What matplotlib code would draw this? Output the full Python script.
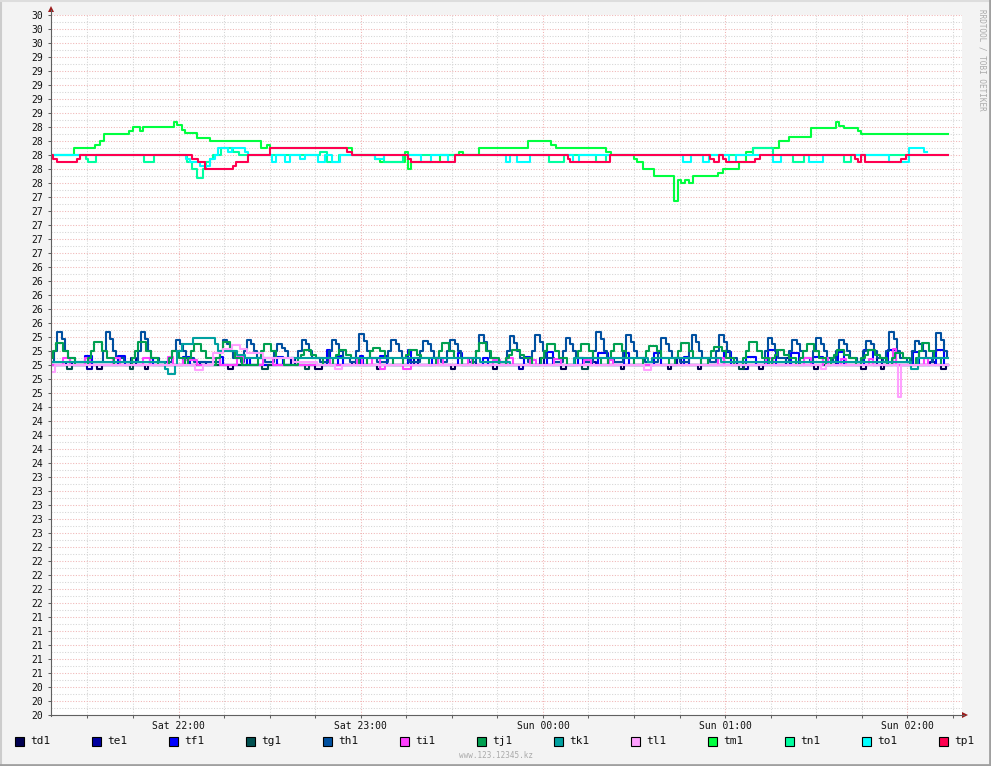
"""
RRDtool style temperature graph: 13 sensors td1 .. tp1, Sat 21:18 -> Sun 02:18.
Times are minutes after 21:18, values are degrees read off the reference.
"""

import matplotlib
matplotlib.use('Agg')
import matplotlib.pyplot as plt
from matplotlib.patches import Rectangle, Polygon
from matplotlib.lines import Line2D
import numpy as np


# Data: (minute, value) step points, each value holds until the next point

td1 = [(0, 25.0), (15.2, 24.94), (16.8, 25.0), (31, 24.94), (32, 25.0), (58.4, 24.94), (60, 25.0),
       (87, 24.94), (89.4, 25.0), (107.5, 24.94), (108.5, 25.0), (131.6, 24.94), (133.2, 25.0),
       (145.4, 24.94), (147, 25.0), (167.8, 24.94), (169.5, 25.0), (187.6, 24.94), (188.6, 25.0),
       (203.1, 24.94), (204.1, 25.0), (213, 24.94), (214, 25.0), (233.1, 24.94), (234.4, 25.0),
       (251.2, 24.94), (252.6, 25.0), (266.7, 24.94), (268.4, 25.0), (273.3, 24.94), (274.3, 25.0),
       (293.1, 24.94), (294.8, 25.0), (295.4, 25.0)]

te1 = [(0, 25.0), (5, 25.05), (7, 25.0), (12, 24.95), (13.5, 25.0), (26.5, 25.1), (28, 25.0),
       (49, 25.05), (51, 25.0), (79, 25.1), (80.5, 25.0), (99, 25.05), (100.5, 25.0),
       (119.5, 25.1), (121, 25.0), (138.5, 25.05), (140, 25.0), (154, 24.95), (155.5, 25.0),
       (161, 25.1), (162.5, 25.0), (178, 25.05), (179.5, 25.0), (206, 25.1), (207.5, 25.0),
       (226, 25.05), (228, 24.95), (229.5, 25.0), (242, 25.1), (243.5, 25.0), (257, 25.05),
       (258.5, 25.0), (272, 25.1), (273.5, 25.0), (289.5, 25.05), (291, 25.0), (295.4, 25.0)]

tf1 = [(0, 25.0), (11.2, 25.13), (13.5, 25.0), (22.1, 25.13), (24.4, 25.0), (32.6, 25.1), (33.6, 25.0),
       (43.5, 25.12), (45.8, 25.0), (55.7, 25.12), (56.7, 25.0), (64.6, 25.1), (65.6, 25.0),
       (74.5, 25.12), (76.5, 25.0), (91, 25.21), (92, 25.0), (94.6, 25.13), (96.3, 25.0),
       (101.9, 25.13), (102.9, 25.0), (108.5, 25.13), (110.8, 25.0), (117.4, 25.21), (118.4, 25.0),
       (125.6, 25.1), (127.3, 25.0), (133.9, 25.17), (135.5, 25.0), (142.4, 25.1), (144, 25.0),
       (155.6, 25.12), (157.9, 25.0), (163.5, 25.19), (165.2, 25.0), (173.4, 25.1), (175.1, 25.0),
       (180, 25.17), (183.3, 25.0), (188.6, 25.17), (190.2, 25.0), (198.5, 25.17), (200.8, 25.0),
       (208.4, 25.12), (210, 25.0), (221.6, 25.19), (223.9, 25.0), (228.8, 25.12), (232.1, 25.0),
       (236.1, 25.21), (238.7, 25.0), (243.6, 25.17), (246.3, 25.0), (250.9, 25.12), (254.2, 25.0),
       (259.2, 25.19), (261.1, 25.0), (267.7, 25.21), (270.7, 25.0), (275.6, 25.21), (278.3, 25.0),
       (283.9, 25.19), (285.9, 25.0), (291.5, 25.21), (294.1, 25.0), (295.4, 25.0)]

tg1 = [(0, 25.0), (5.3, 24.95), (6.9, 25.0), (26, 24.95), (27, 25.0), (69.6, 24.95), (71.5, 25.0),
       (83.7, 24.95), (85, 25.0), (175, 24.95), (176.7, 25.0), (226.5, 24.95), (228.1, 25.0),
       (295.4, 25.0)]

th1 = [(0, 25.05),
       (1, 25.2), (2, 25.47), (3.5, 25.37), (4.5, 25.2), (5.5, 25.1), (8, 25.05),
       (17, 25.2), (18, 25.47), (19.5, 25.37), (20.5, 25.2), (21.5, 25.1), (24, 25.05),
       (28.5, 25.2), (29.5, 25.47), (31, 25.37), (32, 25.2), (33, 25.1), (35.5, 25.05),
       (40, 25.2), (41, 25.36), (42.5, 25.3), (43.5, 25.2), (44.5, 25.1), (47, 25.05),
       (55.5, 25.2), (56.5, 25.36), (58, 25.3), (59, 25.2), (60, 25.1), (62.5, 25.05),
       (63.5, 25.2), (64.5, 25.36), (66, 25.3), (67, 25.2), (68, 25.1), (70.5, 25.05),
       (73.5, 25.2), (74.5, 25.3), (76, 25.25), (77, 25.2), (78, 25.1), (80, 25.05),
       (81.5, 25.2), (82.5, 25.36), (84, 25.3), (85, 25.2), (86, 25.1), (88.5, 25.05),
       (91.5, 25.2), (92.5, 25.36), (94, 25.3), (95, 25.2), (96, 25.1), (98.5, 25.05),
       (100.5, 25.2), (101.5, 25.45), (103, 25.35), (104, 25.2), (105, 25.1), (107.5, 25.05),
       (111, 25.2), (112, 25.36), (113.5, 25.3), (114.5, 25.2), (115.5, 25.1), (118, 25.05),
       (121.5, 25.2), (122.5, 25.35), (124, 25.3), (125, 25.2), (126, 25.1), (128.5, 25.05),
       (130.5, 25.2), (131.5, 25.36), (133, 25.3), (134, 25.2), (135, 25.1), (137.5, 25.05),
       (140, 25.2), (141, 25.43), (142.5, 25.33), (143.5, 25.2), (144.5, 25.1), (147, 25.05),
       (150, 25.2), (151, 25.42), (152.5, 25.32), (153.5, 25.2), (154.5, 25.1), (157, 25.05),
       (158.5, 25.2), (159.5, 25.43), (161, 25.33), (162, 25.2), (163, 25.1), (165.5, 25.05),
       (168.5, 25.2), (169.5, 25.38), (171, 25.3), (172, 25.2), (173, 25.1), (175.5, 25.05),
       (178.5, 25.2), (179.5, 25.47), (181, 25.37), (182, 25.2), (183, 25.1), (185.5, 25.05),
       (188.5, 25.2), (189.5, 25.43), (191, 25.33), (192, 25.2), (193, 25.1), (195.5, 25.05),
       (200, 25.2), (201, 25.38), (202.5, 25.3), (203.5, 25.2), (204.5, 25.1), (207, 25.05),
       (210, 25.2), (211, 25.43), (212.5, 25.33), (213.5, 25.2), (214.5, 25.1), (217, 25.05),
       (219, 25.2), (220, 25.43), (221.5, 25.33), (222.5, 25.2), (223.5, 25.1), (226, 25.05), (229, 25.0),
       (235, 25.2), (236, 25.38), (237.5, 25.3), (238.5, 25.2), (239.5, 25.1), (242, 25.05),
       (243, 25.2), (244, 25.36), (245.5, 25.3), (246.5, 25.2), (247.5, 25.1), (250, 25.05),
       (251, 25.2), (252, 25.38), (253.5, 25.3), (254.5, 25.2), (255.5, 25.1), (257.5, 25.05),
       (258.5, 25.2), (259.5, 25.36), (261, 25.3), (262, 25.2), (263, 25.1), (265.5, 25.05),
       (267.5, 25.2), (268.5, 25.35), (270, 25.3), (271, 25.2), (272, 25.1), (274, 25.05),
       (275, 25.2), (276, 25.47), (277.5, 25.37), (278.5, 25.2), (279.5, 25.1), (282, 25.05),
       (283.5, 25.2), (284.5, 25.35), (286, 25.3), (287, 25.2), (288, 25.1), (290, 25.05),
       (290.5, 25.2), (291.5, 25.46), (293, 25.36), (294, 25.2), (295, 25.1), (295.4, 25.1)]

ti1 = [(0, 25.0), (4, 25.1), (6.3, 25.0), (11.2, 25.1), (12.9, 25.0), (20.4, 25.1), (22.7, 25.0),
       (30.3, 25.1), (32.6, 25.0), (38.6, 25.12), (40.2, 25.0), (43.5, 25.07), (48.1, 25.0),
       (53.4, 25.1), (55.7, 25.0), (61.3, 25.12), (63.3, 25.0), (69.9, 25.1), (73.2, 25.0),
       (89.7, 25.1), (92, 25.0), (100.9, 25.1), (102.5, 25.0), (105.8, 25.1), (108.5, 24.95),
       (110, 25.0), (116, 24.95), (118.4, 25.0), (127.3, 25.1), (129.2, 25.0), (137.2, 25.1),
       (138.8, 25.0), (145.7, 25.07), (148, 25.0), (150.3, 25.1), (152.3, 25.0), (157.9, 25.07),
       (159.6, 25.0), (165.5, 25.08), (167.8, 25.0), (175.4, 25.07), (177.7, 25.0), (183.6, 25.07),
       (185, 25.0), (214, 25.1), (216.3, 25.0), (219.6, 25.1), (221.6, 25.0), (235.4, 25.1),
       (237.7, 25.0), (247.9, 25.1), (250.2, 25.0), (254.2, 25.1), (255.8, 25.0), (260.1, 25.08),
       (261.8, 25.0), (269.4, 25.08), (270.7, 25.0), (277.3, 25.23), (278.3, 25.0), (287.5, 25.1),
       (288.8, 25.0), (295.4, 25.0)]

tj1 = [(0, 25.1), (0.5, 25.2), (1.5, 25.31), (4, 25.2), (5.5, 25.1), (8, 25.0),
       (12.3, 25.1), (13.3, 25.2), (14.3, 25.33), (16.8, 25.2), (18.3, 25.1), (20.8, 25.0),
       (26.8, 25.1), (27.8, 25.2), (28.8, 25.33), (31.3, 25.2), (32.8, 25.1), (35.3, 25.0),
       (39, 25.1), (40, 25.2), (42, 25.1), (44, 25.0),
       (45, 25.1), (46, 25.2), (47, 25.3), (49.5, 25.2), (51, 25.1), (53.5, 25.0),
       (54.5, 25.1), (55.5, 25.2), (56.5, 25.33), (59, 25.2), (60.5, 25.1), (63, 25.0),
       (68.1, 25.1), (69.1, 25.2), (70.1, 25.3), (72.6, 25.2), (74.1, 25.1), (76.6, 25.0),
       (81.2, 25.1), (82.2, 25.15), (83.2, 25.22), (85.7, 25.15), (87.2, 25.1), (89.7, 25.0),
       (92.8, 25.1), (93.8, 25.15), (94.8, 25.22), (97.3, 25.15), (98.8, 25.1), (101.3, 25.0),
       (104, 25.1), (105, 25.2), (106, 25.24), (108.5, 25.2), (110, 25.1), (112.5, 25.0),
       (115.9, 25.1), (116.9, 25.15), (117.9, 25.22), (120.4, 25.15), (121.9, 25.1), (124.4, 25.0),
       (126.7, 25.1), (127.7, 25.2), (128.7, 25.31), (131.2, 25.2), (132.7, 25.1), (135.2, 25.0),
       (138.9, 25.1), (139.9, 25.2), (140.9, 25.31), (143.4, 25.2), (144.9, 25.1), (147.4, 25.0),
       (149.8, 25.1), (150.8, 25.15), (151.8, 25.22), (154.3, 25.15), (155.8, 25.1), (158.3, 25.0),
       (161.4, 25.1), (162.4, 25.2), (163.4, 25.3), (165.9, 25.2), (167.4, 25.1), (169.9, 25.0),
       (172.6, 25.1), (173.6, 25.2), (174.6, 25.3), (177.1, 25.2), (178.6, 25.1), (181.1, 25.0),
       (183.5, 25.1), (184.5, 25.2), (185.5, 25.3), (188, 25.2), (189.5, 25.1), (192, 25.0),
       (195, 25.1), (196, 25.2), (197, 25.27), (199.5, 25.2), (201, 25.1), (203.5, 25.0),
       (205.5, 25.1), (206.5, 25.2), (207.5, 25.31), (210, 25.2), (211.5, 25.1), (214, 25.0),
       (216.4, 25.1), (217.4, 25.2), (218.4, 25.26), (220.9, 25.2), (222.4, 25.1), (224.9, 25.0),
       (228, 25.1), (229, 25.2), (230, 25.33), (232.5, 25.2), (234, 25.1), (236.5, 25.0),
       (237.5, 25.1), (238.5, 25.15), (239, 25.22), (241.4, 25.15), (242.9, 25.1), (245.4, 25.0),
       (246.8, 25.1), (247.8, 25.2), (248.8, 25.3), (251.3, 25.2), (252.8, 25.1), (255.3, 25.0),
       (256.7, 25.1), (257.7, 25.15), (258.7, 25.22), (261.2, 25.15), (262.7, 25.1), (265.2, 25.0),
       (266.9, 25.1), (267.9, 25.15), (268.9, 25.22), (271.4, 25.15), (272.9, 25.1), (275.4, 25.0),
       (277, 25.1), (278, 25.17), (280.5, 25.1), (283, 25.0),
       (284.7, 25.1), (285.7, 25.2), (286.7, 25.31), (289.2, 25.2), (290.7, 25.1), (293.2, 25.0),
       (295.4, 25.0)]

tk1 = [(0, 25.05), (37.6, 24.95), (38.6, 24.87), (40.9, 25.0), (41.5, 25.2), (43.2, 25.3),
       (46.8, 25.38), (54.1, 25.3), (55, 25.2), (61.3, 25.15), (64, 25.1), (141.4, 25.05),
       (151.3, 25.0), (172.1, 25.1), (196.5, 25.05), (198, 25.1), (220.6, 25.05), (283.2, 24.95),
       (285.5, 25.1), (295.4, 25.1)]

tl1 = [(0, 24.9), (1.3, 25.0), (47.5, 24.93), (50.1, 25.0), (53.4, 25.17), (56.7, 25.23),
       (59.7, 25.28), (62.3, 25.23), (64.6, 25.17), (69.9, 25.1), (79.8, 25.05), (87.7, 25.0),
       (93.6, 24.95), (95.9, 25.0), (195.2, 24.93), (197.5, 25.0), (253.5, 24.95), (255.2, 25.0),
       (278.9, 24.55), (279.9, 25.0), (295.4, 25.0)]

tm1 = [(0, 28.0), (7.6, 28.1), (14.5, 28.15), (16, 28.2), (17.5, 28.3), (25.7, 28.35), (27, 28.4),
       (29.3, 28.35), (30.3, 28.4), (40.6, 28.47), (41.5, 28.43), (43.2, 28.36), (44.2, 28.31),
       (48.1, 28.24), (52.4, 28.2), (69, 28.1), (71, 28.15), (72, 28.1), (99.2, 28.0),
       (106.8, 27.95), (108.5, 27.9), (116.7, 28.05), (117.4, 27.8), (118.4, 27.9), (128, 28.0),
       (134.5, 28.05), (135.8, 28.0), (140.8, 28.1), (157, 28.2), (164.5, 28.15), (166.2, 28.1),
       (182.7, 28.05), (184.3, 28.0), (191.9, 27.95), (192.9, 27.9), (194.9, 27.8), (198.5, 27.7),
       (205, 27.35), (206.4, 27.65), (207.4, 27.6), (208.7, 27.65), (210, 27.6), (211.3, 27.7),
       (219.6, 27.75), (221.2, 27.8), (226.5, 27.9), (228.8, 28.05), (231.1, 28.1), (239.7, 28.2),
       (243, 28.26), (250.2, 28.38), (258.5, 28.47), (259.5, 28.42), (261.1, 28.39), (265.7, 28.34),
       (266.7, 28.3), (295.4, 28.3)]

tn1 = [(0, 28.0), (11.5, 27.95), (12.2, 27.9), (14.8, 28.0), (30.7, 27.9), (34, 28.0), (44.8, 27.9),
       (46.5, 27.8), (48.1, 27.67), (50.1, 27.8), (51.1, 27.9), (52.4, 27.95), (53.4, 28.0),
       (56, 28.1), (60, 28.05), (62, 28.0), (88.6, 28.05), (91, 27.9), (95, 28.0), (109.5, 27.9),
       (116, 28.0), (163.9, 27.9), (168.8, 28.0), (179.4, 27.9), (182.7, 28.0), (231.1, 28.1),
       (237.7, 28.0), (244.3, 27.9), (248, 28.0), (261.1, 27.9), (263.4, 28.0), (295.4, 28.0)]

to1 = [(0, 28.0), (44.5, 27.95), (45.8, 27.9), (49.1, 27.85), (52.4, 27.95), (54, 28.0), (55, 28.1),
       (58.4, 28.05), (59.7, 28.1), (64, 28.05), (65, 28.0), (72.9, 27.9), (74.2, 28.0), (77.2, 27.9),
       (78.8, 28.0), (82.1, 27.95), (83.7, 28.0), (88, 27.9), (90.3, 28.0), (92.6, 27.9), (95.3, 28.0),
       (106.8, 27.95), (109.5, 28.0), (121.7, 27.9), (125, 28.0), (130.6, 27.9), (133.2, 28.0),
       (149.7, 27.9), (151.3, 28.0), (153.6, 27.9), (157.9, 28.0), (171.8, 27.9), (173.8, 28.0),
       (208, 27.9), (210.7, 28.0), (214.6, 27.9), (216.6, 28.0), (223.2, 27.9), (225.5, 28.0),
       (237.7, 27.9), (240.4, 28.0), (249.6, 27.9), (254.2, 28.0), (276, 27.9), (282.6, 28.1),
       (287.5, 28.05), (288.5, 28.05)]

tp1 = [(0, 28.0), (0.7, 27.95), (2, 27.9), (8.6, 27.95), (9.6, 28.0), (46.5, 27.95), (48.5, 27.9),
       (50.8, 27.8), (60, 27.85), (61, 27.9), (65, 28.0), (72.2, 28.1), (97.6, 28.05), (99.2, 28.0),
       (117.4, 27.95), (118.7, 27.9), (132.9, 28.0), (170.2, 27.95), (170.8, 27.9), (184, 28.0),
       (217, 27.95), (218.3, 27.9), (220, 28.0), (221.2, 27.95), (222.2, 27.9), (231.8, 27.95),
       (233.4, 28.0), (264.8, 27.95), (265.7, 27.9), (266.7, 28.0), (268, 27.9), (280, 27.95),
       (281.6, 28.0), (295.4, 28.0)]

names = ['td1', 'te1', 'tf1', 'tg1', 'th1', 'ti1', 'tj1', 'tk1', 'tl1', 'tm1', 'tn1', 'to1', 'tp1']
series = [td1, te1, tf1, tg1, th1, ti1, tj1, tk1, tl1, tm1, tn1, to1, tp1]
colours = ['#000050', '#0000a0', '#0000ff', '#005050', '#0050a0', '#ff40ff', '#00a050',
           '#00a0a0', '#ffa0ff', '#00ff40', '#00ffa0', '#00ffff', '#ff0050']

hour_ticks = [42, 102, 162, 222, 282]
hour_labels = ['Sat 22:00', 'Sat 23:00', 'Sun 00:00', 'Sun 01:00', 'Sun 02:00']


# Figure in pixel terms
W, H = 991, 766
MONO = 'DejaVu Sans Mono'

def fx(x):
    return x / W

def fy(y):
    return 1 - y / H

fig = plt.figure(figsize=(W / 100, H / 100), dpi=100, facecolor='#f3f3f3')
ax = fig.add_axes([fx(51), fy(715), 911 / W, 700 / H])
ax.set_facecolor('white')

for pts, col in zip(series, colours):
    t = [p[0] for p in pts]
    v = [p[1] for p in pts]
    ax.step(t, v, where='post', color=col, lw=1.5, zorder=3)

ax.set_xlim(0, 300)
ax.set_ylim(20, 30)

# ticks / grid like rrdtool: minor grey dots, major pink dots
yt = np.round(np.arange(20, 30.001, 0.2), 1)
ax.set_yticks(yt, [f"{v:.0f}" for v in yt])
ax.set_yticks(np.round(np.arange(20.1, 30, 0.2), 1), minor=True)
ax.set_xticks(hour_ticks, hour_labels)
ax.set_xticks(np.arange(12, 300, 15), minor=True)

ax.set_axisbelow(True)
ax.grid(which='minor', color='#d4d4d4', lw=0.75, ls=(0, (1, 1.6)))
ax.grid(which='major', color='#f0b4b4', lw=0.75, ls=(0, (1, 1.6)))

ax.tick_params(axis='y', which='major', direction='out', length=2.5, width=0.75,
               color='#606060', pad=3, labelsize=7)
ax.tick_params(axis='y', which='minor', length=0)
ax.tick_params(axis='x', which='both', direction='out', length=2.5, width=0.75,
               color='#606060', pad=1.5, labelsize=7)
for lab in ax.get_xticklabels() + ax.get_yticklabels():
    lab.set_family(MONO)
    lab.set_color('#111111')

for s in ax.spines.values():
    s.set_visible(False)

# axis lines with the little red arrows
fig.add_artist(Line2D([fx(51), fx(51)], [fy(715.5), fy(10)], color='#606060', lw=0.8,
                      transform=fig.transFigure))
fig.add_artist(Line2D([fx(50.5), fx(964)], [fy(715), fy(715)], color='#606060', lw=0.8,
                      transform=fig.transFigure))
fig.add_artist(Polygon([(fx(51), fy(6)), (fx(48), fy(12)), (fx(54), fy(12))], closed=True,
                       fc='#9b1b1b', ec='none', transform=fig.transFigure))
fig.add_artist(Polygon([(fx(968), fy(715)), (fx(962), fy(712)), (fx(962), fy(718))], closed=True,
                       fc='#9b1b1b', ec='none', transform=fig.transFigure))

# legend row
for i, (name, col) in enumerate(zip(names, colours)):
    x0 = 15 + 77 * i
    fig.add_artist(Rectangle((fx(x0), fy(746)), 9 / W, 9 / H, fc=col, ec='black', lw=0.8,
                             transform=fig.transFigure))
    fig.text(fx(x0 + 15), fy(741), name, ha='left', va='center', fontsize=8,
             family=MONO, color='#111111')

fig.text(fx(496), fy(755), 'www.123.12345.kz', ha='center', va='center', fontsize=5.5,
         family=MONO, color='#aaaaaa')
fig.text(fx(982), fy(60), 'RRDTOOL / TOBI OETIKER', ha='center', va='center', fontsize=5.5,
         family=MONO, color='#aaaaaa', rotation=270)

# shaded frame around the canvas
fig.add_artist(Line2D([fx(0.5), fx(0.5)], [fy(0), fy(766)], color='#cccccc', lw=1.5,
                      transform=fig.transFigure))
fig.add_artist(Line2D([fx(0), fx(991)], [fy(0.5), fy(0.5)], color='#dddddd', lw=1.5,
                      transform=fig.transFigure))
fig.add_artist(Line2D([fx(989.5), fx(989.5)], [fy(0), fy(766)], color='#a0a0a0', lw=2,
                      transform=fig.transFigure))
fig.add_artist(Line2D([fx(0), fx(991)], [fy(764.5), fy(764.5)], color='#a0a0a0', lw=2,
                      transform=fig.transFigure))

fig.savefig('out.png', dpi=100, facecolor=fig.get_facecolor())
